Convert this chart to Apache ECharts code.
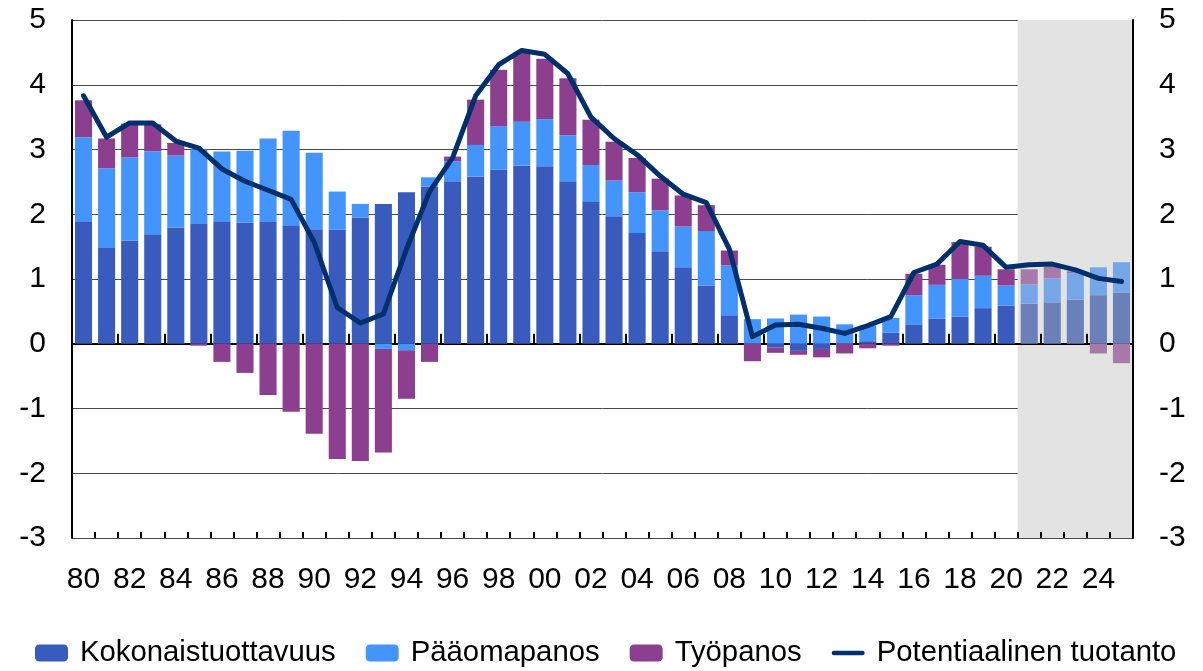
<!DOCTYPE html>
<html>
<head>
<meta charset="utf-8">
<script src="https://cdn.jsdelivr.net/npm/echarts@6/dist/echarts.min.js"></script>
<style>
html,body{margin:0;padding:0;background:#fff;}
#chart{width:1203px;height:671px;}
</style>
</head>
<body>
<div id="chart"></div>
<script>
var years = ['80','81','82','83','84','85','86','87','88','89','90','91','92','93','94','95','96','97','98','99','00','01','02','03','04','05','06','07','08','09','10','11','12','13','14','15','16','17','18','19','20','21','22','23','24','25'];
var yTicks = [-3,-2,-1,0,1,2,3,4,5];
var forecastStart = 41; // index of year 2021

var kokonaistuottavuus = [1.89,1.48,1.59,1.69,1.79,1.85,1.89,1.87,1.88,1.83,1.77,1.76,1.95,2.16,2.34,2.43,2.51,2.58,2.69,2.75,2.74,2.51,2.20,1.97,1.71,1.43,1.18,0.90,0.44,0.00,-0.06,-0.11,-0.08,0.00,0.04,0.17,0.30,0.39,0.42,0.55,0.59,0.62,0.64,0.68,0.75,0.79];
var paaomapanos = [1.30,1.23,1.29,1.28,1.12,1.15,1.08,1.11,1.29,1.46,1.18,0.59,0.21,-0.08,-0.10,0.14,0.31,0.49,0.67,0.68,0.73,0.71,0.56,0.55,0.63,0.63,0.63,0.84,0.77,0.38,0.39,0.45,0.42,0.30,0.24,0.23,0.45,0.52,0.58,0.50,0.31,0.30,0.37,0.41,0.43,0.47];
var tyopanos = [0.57,0.46,0.52,0.42,0.19,-0.03,-0.28,-0.45,-0.79,-1.05,-1.39,-1.78,-1.81,-1.60,-0.75,-0.28,0.07,0.70,0.87,1.07,0.93,0.88,0.70,0.60,0.53,0.49,0.48,0.40,0.23,-0.27,-0.08,-0.06,-0.13,-0.15,-0.07,-0.03,0.33,0.31,0.57,0.45,0.25,0.23,0.18,0.03,-0.15,-0.30];
var potentiaalinen = [3.83,3.19,3.41,3.41,3.13,3.02,2.70,2.51,2.37,2.23,1.57,0.56,0.32,0.46,1.46,2.35,2.87,3.83,4.31,4.53,4.47,4.17,3.50,3.17,2.92,2.59,2.31,2.18,1.46,0.11,0.29,0.30,0.24,0.16,0.28,0.42,1.10,1.23,1.58,1.52,1.18,1.22,1.23,1.14,1.01,0.96];

var FONT = "'Liberation Sans', Arial, sans-serif";
var C_DARK = '#385bbd', C_LIGHT = '#4394fd', C_PURPLE = '#8b3f8e', C_LINE = '#00306c';
var F_DARK = '#6b80b9', F_LIGHT = '#74a6e8', F_PURPLE = '#a77aa9';

function withForecast(arr, fc) {
  return arr.map(function (v, i) {
    return i >= forecastStart ? { value: v, itemStyle: { color: fc } } : v;
  });
}

var chart = echarts.init(document.getElementById('chart'), null, { renderer: 'canvas' });
chart.setOption({
  animation: false,
  backgroundColor: '#fff',
  textStyle: { fontFamily: FONT },
  grid: { left: 72, right: 70, top: 20, bottom: 133, containLabel: false },
  legend: {
    top: 638,
    left: 35,
    padding: 0,
    itemWidth: 33,
    itemHeight: 17,
    itemGap: 30,
    symbolKeepAspect: true,
    data: [
      'Kokonaistuottavuus', 'Pääomapanos', 'Työpanos',
      { name: 'Potentiaalinen tuotanto', icon: 'path://M2.5,0 L33.5,0 A2.5,2.5 0 0 1 33.5,5 L2.5,5 A2.5,2.5 0 0 1 2.5,0 Z' }
    ],
    textStyle: { fontFamily: FONT, fontSize: 29.3, color: '#000', lineHeight: 30, padding: [0, 0, 0, 7] }
  },
  xAxis: [
    {
      type: 'category', data: years, position: 'bottom', z: 1,
      axisLine: { show: true, lineStyle: { color: '#000', width: 2 } },
      axisTick: { show: true, inside: true, interval: 1, length: 10, lineStyle: { color: '#000', width: 2 } },
      axisLabel: { interval: 1, fontSize: 30, color: '#000', margin: 27, fontFamily: FONT },
      splitLine: { show: false }
    },
    {
      type: 'value', min: 0, max: years.length, show: false, position: 'bottom'
    },
    {
      type: 'category', data: years, position: 'bottom', z: 1,
      axisLine: { show: false },
      axisTick: { show: true, inside: true, interval: 0, length: 6, lineStyle: { color: '#000', width: 2 } },
      axisLabel: { show: false },
      splitLine: { show: false }
    }
  ],
  yAxis: [
    {
      type: 'value', min: yTicks[0], max: yTicks[yTicks.length - 1], interval: 1, position: 'left', z: 1,
      axisLine: { show: true, lineStyle: { color: '#000', width: 2 } },
      axisTick: { show: false },
      axisLabel: { fontSize: 30, color: '#000', margin: 26, fontFamily: FONT },
      splitLine: { show: true, lineStyle: { color: '#4a4a4a', width: 1 } }
    },
    {
      type: 'value', min: yTicks[0], max: yTicks[yTicks.length - 1], interval: 1, position: 'right', z: 1,
      axisLine: { show: true, lineStyle: { color: '#000', width: 2 } },
      axisTick: { show: false },
      axisLabel: { fontSize: 30, color: '#000', margin: 26, fontFamily: FONT },
      splitLine: { show: false }
    }
  ],
  series: [
    {
      name: 'shade', type: 'line', xAxisIndex: 1, yAxisIndex: 0, data: [], z: 0, silent: true,
      markArea: {
        silent: true,
        itemStyle: { color: '#e3e3e3' },
        data: [[{ xAxis: forecastStart }, { xAxis: years.length }]]
      }
    },
    {
      name: 'Kokonaistuottavuus', type: 'bar', stack: 'a', z: 2, barCategoryGap: '26%',
      itemStyle: { color: C_DARK },
      data: withForecast(kokonaistuottavuus, F_DARK)
    },
    {
      name: 'Pääomapanos', type: 'bar', stack: 'a', z: 2,
      itemStyle: { color: C_LIGHT },
      data: withForecast(paaomapanos, F_LIGHT)
    },
    {
      name: 'Työpanos', type: 'bar', stack: 'a', z: 2,
      itemStyle: { color: C_PURPLE },
      data: withForecast(tyopanos, F_PURPLE)
    },
    {
      name: 'Potentiaalinen tuotanto', type: 'line', z: 3, symbol: 'none',
      lineStyle: { color: C_LINE, width: 5, join: 'round', cap: 'round' },
      itemStyle: { color: C_LINE },
      data: potentiaalinen
    }
  ]
});
</script>
</body>
</html>
